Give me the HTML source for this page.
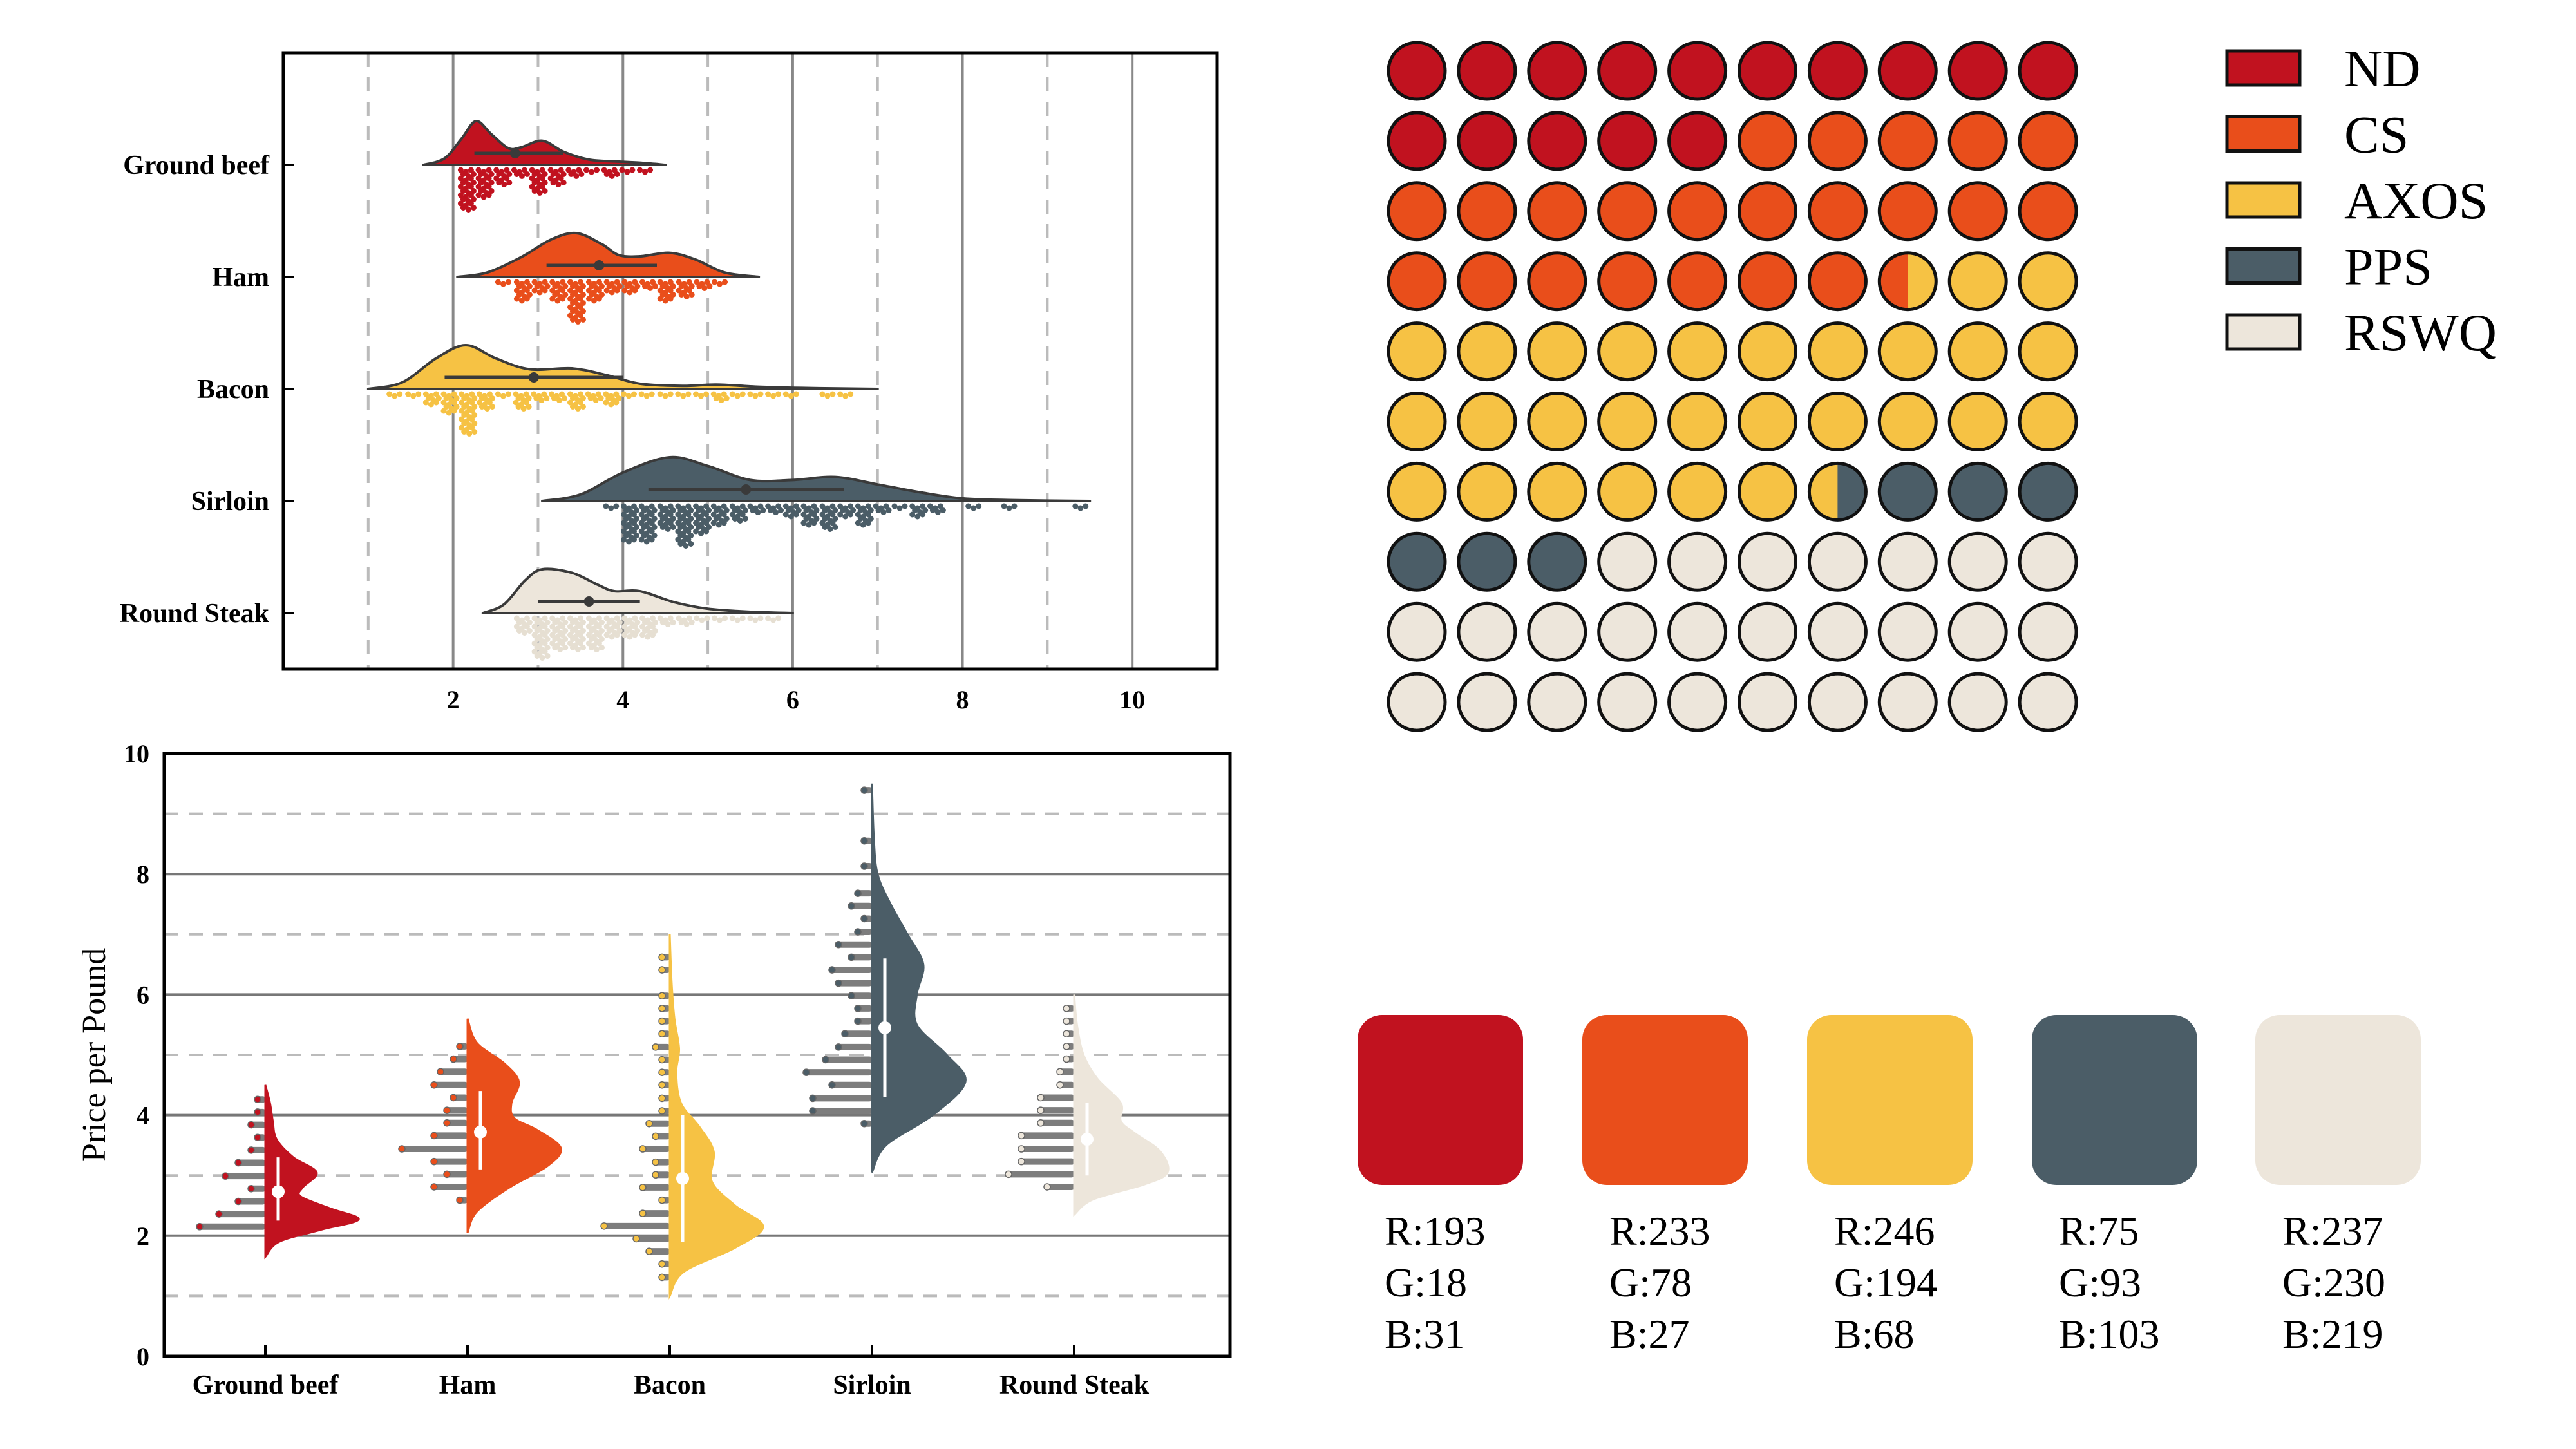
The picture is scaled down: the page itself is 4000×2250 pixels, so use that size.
<!DOCTYPE html>
<html><head><meta charset="utf-8">
<style>
html,body{margin:0;padding:0;background:#fff;}
svg{display:block;}
text{font-family:"Liberation Serif",serif;}
</style></head>
<body>
<svg id="root" width="4000" height="2250" viewBox="0 0 4000 2250" xmlns="http://www.w3.org/2000/svg">
<g id="topChart"></g>
<g id="botChart"></g>
<g id="waffle"></g>
<g id="legend"></g>
<g id="swatches"></g>
</svg>
<script>
const categories = ["Ground beef","Ham","Bacon","Sirloin","Round Steak"];
const colors = ["#C1121F","#E94E1B","#F6C244","#4B5D67","#EDE6DB"];
const densGB = [[1.65,0],[1.9,0.15],[2.1,0.6],[2.27,1],[2.45,0.7],[2.65,0.38],[2.8,0.4],[3.05,0.55],[3.3,0.3],[3.6,0.12],[3.9,0.08],[4.2,0.05],[4.5,0]];
const densHam = [[2.05,0],[2.4,0.1],[2.8,0.45],[3.15,0.85],[3.45,1],[3.75,0.75],[3.95,0.5],[4.2,0.47],[4.55,0.55],[4.85,0.4],[5.2,0.1],[5.6,0]];
const densBacon = [[1.0,0],[1.4,0.15],[1.8,0.7],[2.15,1],[2.5,0.7],[2.9,0.45],[3.4,0.47],[3.8,0.32],[4.2,0.12],[4.7,0.07],[5.1,0.1],[5.6,0.05],[6.2,0.02],[7.0,0]];
const densSirloin = [[3.05,0],[3.5,0.15],[4.0,0.65],[4.55,1],[5.0,0.8],[5.5,0.48],[6.0,0.48],[6.5,0.55],[7.0,0.38],[7.5,0.2],[8.0,0.06],[8.6,0.02],[9.5,0]];
const densRound = [[2.35,0],[2.6,0.2],[2.85,0.75],[3.05,1],[3.4,0.92],[3.7,0.65],[3.9,0.5],[4.2,0.5],[4.6,0.25],[5.0,0.1],[5.5,0.03],[6.0,0]];
const means = [2.73,3.72,2.95,5.45,3.6];
const ciLow = [2.25,3.1,1.9,4.3,3.0];
const ciHigh = [3.3,4.4,4.0,6.6,4.2];
const binsGB = [[2.15,10],[2.36,7],[2.57,4],[2.78,2],[2.99,6],[3.21,4],[3.42,2],[3.63,1],[3.84,2],[4.05,1],[4.26,1]];
const binsHam = [[2.59,1],[2.81,5],[3.02,3],[3.23,5],[3.44,10],[3.66,5],[3.87,3],[4.08,3],[4.29,2],[4.5,5],[4.72,4],[4.93,2],[5.14,1]];
const binsBacon = [[1.31,1],[1.53,1],[1.74,3],[1.95,5],[2.16,10],[2.37,4],[2.59,1],[2.8,4],[3.01,2],[3.22,2],[3.44,4],[3.65,2],[3.86,3],[4.07,1],[4.28,1],[4.5,1],[4.71,1],[4.92,1],[5.13,2],[5.35,1],[5.56,1],[5.77,1],[5.98,1],[6.41,1],[6.62,1]];
const binsSirloin = [[3.86,1],[4.07,9],[4.28,9],[4.5,6],[4.71,10],[4.92,7],[5.13,5],[5.35,4],[5.56,2],[5.77,2],[5.98,3],[6.19,5],[6.41,6],[6.62,3],[6.83,5],[7.04,2],[7.26,1],[7.47,3],[7.68,2],[8.13,1],[8.55,1],[9.39,1]];
const binsRound = [[2.81,4],[3.02,10],[3.23,8],[3.44,8],[3.66,8],[3.87,5],[4.08,5],[4.29,5],[4.5,2],[4.72,2],[4.93,1],[5.14,1],[5.35,1],[5.56,1],[5.77,1]];
const xTicksTop = [2,4,6,8,10];
const yTicksBot = [0,2,4,6,8,10];
const waffleLabels = ["ND","CS","AXOS","PPS","RSWQ"];
const waffleValues = [15,22.5,29,6.5,27];
const swR = [193,233,246,75,237];
const swG = [18,78,194,93,230];
const swB = [31,27,68,103,219];

const dens=[densGB,densHam,densBacon,densSirloin,densRound];
const bins=[binsGB,binsHam,binsBacon,binsSirloin,binsRound];
const NS="http://www.w3.org/2000/svg";
function mk(tag,attrs,parent,text){const e=document.createElementNS(NS,tag);for(const k in attrs)e.setAttribute(k,attrs[k]);if(text!==undefined)e.textContent=text;parent.appendChild(e);return e;}
function smooth(pts){let d="M"+pts[0][0]+","+pts[0][1];for(let i=0;i<pts.length-1;i++){const p0=pts[i-1]||pts[i],p1=pts[i],p2=pts[i+1],p3=pts[i+2]||p2;
const c1=[p1[0]+(p2[0]-p0[0])/6,p1[1]+(p2[1]-p0[1])/6],c2=[p2[0]-(p3[0]-p1[0])/6,p2[1]-(p3[1]-p1[1])/6];
d+=` C${c1[0]},${c1[1]} ${c2[0]},${c2[1]} ${p2[0]},${p2[1]}`;}return d;}

// ---------- TOP CHART ----------
const topG=document.getElementById('topChart');
const TL=440,TR=1890,TT=82,TB=1039;
const xs=v=>TL+(v/11)*(TR-TL);
const rowY=i=>256+i*174;
for(let v=1;v<=10;v++){
  const g=mk('line',{x1:xs(v),x2:xs(v),y1:TT,y2:TB,stroke:v%2?'#bbb':'#888','stroke-width':4,'stroke-dasharray':v%2?'22,16':'none'},topG);
  
  
}
categories.forEach((c,i)=>{
  const base=rowY(i);
  const g=mk('g',{},topG);
  
  
  bins[i].forEach(b=>{
    for(let k=0;k<b[1];k++){for(let j=0;j<3;j++){
      const dot=mk('ellipse',{cx:xs(b[0])+(j-1)*8+((k%2)*4),cy:base+8+k*6.5+(j%2)*3,rx:4.5,ry:4.5,fill:i==4?'#E6DFD2':colors[i]},g);
      
      
    }}
  });
  const pts=dens[i].map(p=>[xs(p[0]),base-p[1]*68]);
  const p=mk('path',{d:smooth(pts)+" Z",fill:colors[i],stroke:'#3a3a3a','stroke-width':4,'stroke-linejoin':'round'},g);
  
  
  const l=mk('line',{x1:xs(ciLow[i]),x2:xs(ciHigh[i]),y1:base-18,y2:base-18,stroke:'#3a3a3a','stroke-width':5},g);
  
  
  const m=mk('circle',{cx:xs(means[i]),cy:base-18,r:8,fill:'#3a3a3a'},g);
  
  
  const tk=mk('line',{x1:TL,x2:TL+16,y1:base,y2:base,stroke:'#000','stroke-width':4},topG);
  
  
  const t=mk('text',{x:TL-22,y:base+14,'text-anchor':'end','font-size':42,'font-weight':'bold'},topG,c);
  
  
});
const tf=mk('rect',{x:TL,y:TT,width:TR-TL,height:TB-TT,fill:'none',stroke:'#000','stroke-width':5},topG);


xTicksTop.forEach(v=>{
  const t=mk('text',{x:xs(v),y:1100,'text-anchor':'middle','font-size':40,'font-weight':'bold'},topG,String(v));
  
  
});

// ---------- BOTTOM CHART ----------
const botG=document.getElementById('botChart');
const BL=255,BR=1910,BT=1170,BB=2106;
const ys=v=>BB-(v/10)*(BB-BT);
const colX=i=>412+i*314;
for(let v=1;v<=9;v++){
  const g=mk('line',{x1:BL,x2:BR,y1:ys(v),y2:ys(v),stroke:v%2?'#bbb':'#777','stroke-width':4,'stroke-dasharray':v%2?'22,16':'none'},botG);
  
  
}
categories.forEach((c,i)=>{
  const sx=colX(i);
  const g=mk('g',{},botG);
  
  
  bins[i].forEach(b=>{
    const y=ys(b[0]),x0=sx-b[1]*10-2;
    const bar=mk('line',{x1:x0,x2:sx-4,y1:y,y2:y,stroke:'#7d7d7d','stroke-width':10,'stroke-linecap':'round'},g);
    
    
    const e=mk('circle',{cx:x0,cy:y,r:5,fill:colors[i],stroke:'#666','stroke-width':1.5},g);
    
    
  });
  const pts=dens[i].map(p=>[sx+p[1]*145,ys(p[0])]);
  const p=mk('path',{d:smooth(pts)+" Z",fill:colors[i],stroke:colors[i],'stroke-width':3},g);
  
  
  const l=mk('line',{x1:sx+20,x2:sx+20,y1:ys(ciLow[i]),y2:ys(ciHigh[i]),stroke:'#fff','stroke-width':5},g);
  
  
  const m=mk('circle',{cx:sx+20,cy:ys(means[i]),r:10,fill:'#fff'},g);
  
  
  const tk=mk('line',{x1:sx,x2:sx,y1:BB,y2:BB-18,stroke:'#000','stroke-width':4},botG);
  
  
  const t=mk('text',{x:sx,y:2164,'text-anchor':'middle','font-size':42,'font-weight':'bold'},botG,c);
  
  
});
const bf=mk('rect',{x:BL,y:BT,width:BR-BL,height:BB-BT,fill:'none',stroke:'#000','stroke-width':5},botG);


yTicksBot.forEach(v=>{
  const t=mk('text',{x:232,y:ys(v)+14,'text-anchor':'end','font-size':40,'font-weight':'bold'},botG,String(v));
  
  
});
const yt=mk('text',{x:0,y:0,'text-anchor':'middle','font-size':52,transform:'translate(163,1638) rotate(-90)'},botG,'Price per Pound');



// ---------- WAFFLE ----------
const waf=document.getElementById('waffle');
const cum=[];let s=0;waffleValues.forEach(v=>{s+=v;cum.push(s);});
const defs=mk('defs',{},waf);
for(let k=0;k<100;k++){
  const r=Math.floor(k/10),c=k%10,cx=2200+c*108.9,cy=110+r*108.9,R=44;
  let ci=cum.findIndex(v=>v>k); if(ci<0)ci=4;
  const g=mk('g',{},waf);
  
  
  mk('circle',{cx:cx,cy:cy,r:R,fill:colors[ci]},g);
  const frac=cum[ci]-k;
  if(frac<1 && ci<4){
    const cp=mk('clipPath',{id:'cp'+k},defs);
    mk('rect',{x:cx-R+frac*2*R,y:cy-R,width:2*R,height:2*R},cp);
    mk('circle',{cx:cx,cy:cy,r:R,fill:colors[ci+1],'clip-path':'url(#cp'+k+')'},g);
  }
  mk('circle',{cx:cx,cy:cy,r:R,fill:'none',stroke:'#111','stroke-width':5},g);
}
const leg=document.getElementById('legend');
waffleLabels.forEach((lab,i)=>{
  const y=105+i*102.5;
  const g=mk('g',{},leg);
  
  
  mk('rect',{x:3458,y:y-26,width:113,height:53,fill:colors[i],stroke:'#111','stroke-width':5},g);
  mk('text',{x:3640,y:y+29,'font-size':82},g,lab);
});
const sw=document.getElementById('swatches');
colors.forEach((col,i)=>{
  const x=i<4?2108+i*349:3502;
  const g=mk('g',{},sw);
  
  
  mk('rect',{x:x,y:1576,width:257,height:264,rx:38,fill:col},g);
  mk('text',{x:x+42,y:1933,'font-size':64},g,'R:'+swR[i]);
  mk('text',{x:x+42,y:2013,'font-size':64},g,'G:'+swG[i]);
  mk('text',{x:x+42,y:2093,'font-size':64},g,'B:'+swB[i]);
});
</script>
</body></html>
